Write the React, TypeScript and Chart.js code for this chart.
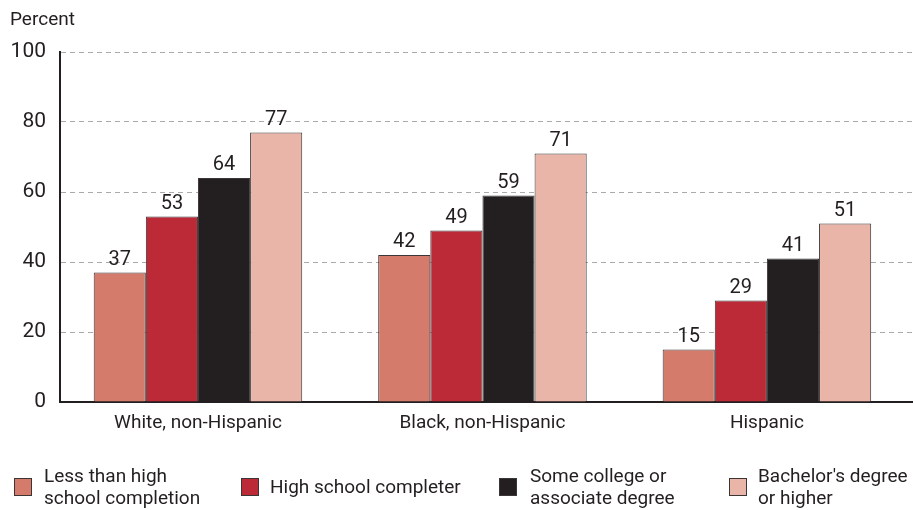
import React, { useEffect, useRef } from "react";
import { Chart, registerables } from "chart.js";

Chart.register(...registerables);

const categories = ["White, non-Hispanic", "Black, non-Hispanic", "Hispanic"];
const seriesNames = [
  ["Less than high", "school completion"],
  ["High school completer"],
  ["Some college or", "associate degree"],
  ["Bachelor's degree", "or higher"],
];
const lessThanHS = [37, 42, 15];
const hsCompleter = [53, 49, 29];
const someCollege = [64, 59, 41];
const bachelors = [77, 71, 51];
const yTicks = [0, 20, 40, 60, 80, 100];
const colors = ["#d57b6c", "#bb2a36", "#231f20", "#e8b5a8"];
const FONT = "Roboto, sans-serif";

const labelPlugin = {
  id: "valueLabels",
  afterDatasetsDraw(chart: any) {
    const ctx = chart.ctx;
    ctx.save();
    ctx.font = `20px ${FONT}`;
    ctx.fillStyle = "#231f20";
    ctx.textAlign = "center";
    ctx.textBaseline = "bottom";
    chart.data.datasets.forEach((ds: any, i: number) => {
      const meta = chart.getDatasetMeta(i);
      meta.data.forEach((bar: any, j: number) => {
        ctx.fillText(String(ds.data[j].y), bar.x, bar.y - 3);
      });
    });
    ctx.font = `19px ${FONT}`;
    ctx.textAlign = "left";
    ctx.textBaseline = "middle";
    ctx.fillText("Percent", 10, 20);
    ctx.restore();
  },
};

export default function App() {
  const ref = useRef<HTMLCanvasElement>(null);
  useEffect(() => {
    const data = [lessThanHS, hsCompleter, someCollege, bachelors];
    const chart = new Chart(ref.current!, {
      type: "bar",
      data: {
        datasets: data.map((d, i) => ({
          label: seriesNames[i].join(" "),
          data: d.map((v, j) => ({ x: j, y: v })),
          backgroundColor: colors[i],
          borderColor: "#3b3536",
          borderWidth: 1,
          barPercentage: 1,
          categoryPercentage: 0.733,
        })),
      },
      options: {
        animation: false,
        responsive: false,
        layout: { padding: { top: 52, left: 0, right: 1, bottom: 0 } },
        plugins: { legend: { display: false }, tooltip: { enabled: false } },
        scales: {
          x: {
            type: "linear",
            min: -0.485,
            max: 2.51,
            offset: false,
            afterBuildTicks: (s: any) => { s.ticks = categories.map((_, i) => ({ value: i })); },
            grid: { display: false, drawTicks: false },
            border: { color: "#231f20", width: 2 },
            ticks: {
              font: { size: 19, family: FONT },
              color: "#231f20",
              padding: 10,
              autoSkip: false,
              maxRotation: 0,
              callback: (v: any) => categories[Math.round(Number(v))],
            },
            afterFit: (s: any) => { s.height = 108; },
          },
          y: {
            min: 0,
            max: 100,
            afterBuildTicks: (s: any) => { s.ticks = yTicks.map((v) => ({ value: v })); },
            grid: {
              color: (c: any) => (c.tick && c.tick.value === 0 ? "rgba(0,0,0,0)" : "#aaaaaa"),
              drawTicks: false,
            },
            border: { color: "#231f20", width: 2, dash: [5, 4] },
            ticks: { font: { size: 21, family: FONT }, color: "#231f20", padding: 14 },
            afterFit: (s: any) => { s.width = 60; },
          },
        },
      } as any,
      plugins: [labelPlugin],
    });
    return () => chart.destroy();
  }, []);

  const legendPos = [
    { sq: 14, tx: 44 },
    { sq: 241, tx: 270 },
    { sq: 499, tx: 530 },
    { sq: 729, tx: 758 },
  ];

  return (
    <div style={{ position: "fixed", left: 0, top: 0, width: 913, height: 510, background: "#fff" }}>
      <canvas ref={ref} width={913} height={510} style={{ position: "absolute", left: 0, top: 0 }} />
      {seriesNames.map((name, i) => (
        <React.Fragment key={i}>
          <div
            style={{
              position: "absolute",
              left: legendPos[i].sq,
              top: 478,
              width: 18,
              height: 18,
              boxSizing: "border-box",
              background: colors[i],
              border: "1.5px solid #3b3536",
            }}
          />
          <div
            style={{
              position: "absolute",
              left: legendPos[i].tx,
              top: 487,
              transform: "translateY(-50%)",
              font: `19px ${FONT}`,
              lineHeight: "22px",
              color: "#231f20",
              whiteSpace: "nowrap",
            }}
          >
            {name.map((l, k) => (
              <div key={k}>{l}</div>
            ))}
          </div>
        </React.Fragment>
      ))}
    </div>
  );
}
